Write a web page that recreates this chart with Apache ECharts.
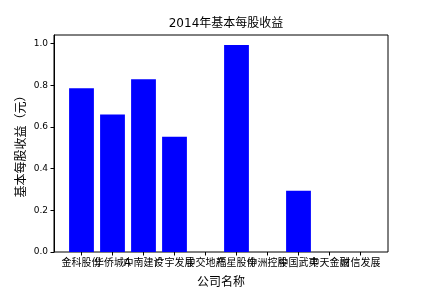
<!DOCTYPE html>
<html>
<head>
<meta charset="utf-8">
<script src="https://cdn.jsdelivr.net/npm/echarts@6/dist/echarts.min.js"></script>
<style>html,body{margin:0;padding:0;background:#fff;}#c{width:432px;height:288px;}</style>
</head>
<body>
<div id="c"></div>
<script>
var categories = ['金科股份', '华侨城A', '中南建设', '广宇发展', '中交地产', '福星股份', '中洲控股', '中国武夷', '中天金融', '财信发展'];
var eps = [0.785, 0.659, 0.829, 0.553, 0, 0.993, 0, 0.294, 0, 0];
var yTicks = [0, 0.2, 0.4, 0.6, 0.8, 1.0];
var titleText = '2014年基本每股收益';
var xName = '公司名称';
var yName = '基本每股收益（元）';

var FONT = 'DejaVu Sans, Noto Sans CJK SC, sans-serif';
var YMAX = 1.0408;
var chart = echarts.init(document.getElementById('c'), null, {renderer: 'canvas'});
chart.setOption({
  animation: false,
  backgroundColor: '#fff',
  title: {
    text: titleText, left: 221, top: 13, textAlign: 'center',
    textStyle: {fontSize: 12, fontWeight: 'normal', color: '#000', fontFamily: FONT}
  },
  grid: [
    {left: 54, right: 44, top: 35, bottom: 36, show: true, borderColor: '#000', borderWidth: 1,
     backgroundColor: 'transparent', containLabel: false, outerBoundsMode: 'none'},
    {left: 66, width: 310, top: 35, bottom: 36, containLabel: false, outerBoundsMode: 'none'}
  ],
  xAxis: [
    {
      type: 'value', gridIndex: 0, min: 0, max: 1,
      show: false
    },
    {
      type: 'category', gridIndex: 1, data: categories, boundaryGap: true,
      axisLine: {show: false},
      axisTick: {show: true, alignWithLabel: true, length: 3.5, lineStyle: {color: '#000'}},
      axisLabel: {interval: 0, margin: 6, fontSize: 10, color: '#000', fontFamily: FONT, hideOverlap: false},
      splitLine: {show: false},
      name: xName, nameLocation: 'middle', nameGap: 25, nameMoveOverlap: false,
      nameTextStyle: {fontSize: 12, color: '#000', fontFamily: FONT}
    }
  ],
  yAxis: [
    {
      type: 'value', gridIndex: 0, min: 0, max: YMAX, interval: 0.2,
      splitLine: {show: false},
      axisLine: {show: true, lineStyle: {color: '#000', width: 1}},
      axisTick: {show: true, length: 3.5, lineStyle: {color: '#000'}},
      axisLabel: {
        showMaxLabel: false, margin: 6, fontSize: 9, color: '#000', fontFamily: FONT,
        formatter: function (v) { return v > 1.01 ? '' : v.toFixed(1); }
      },
      name: yName, nameLocation: 'middle', nameRotate: 90, nameGap: 26, nameMoveOverlap: false,
      nameTextStyle: {fontSize: 12, color: '#000', fontFamily: FONT}
    },
    {
      type: 'value', gridIndex: 1, min: 0, max: YMAX, show: false
    }
  ],
  series: [{
    type: 'bar',
    xAxisIndex: 1, yAxisIndex: 1,
    barWidth: '80%',
    itemStyle: {color: '#0000ff'},
    data: eps
  }]
});
</script>
</body>
</html>
